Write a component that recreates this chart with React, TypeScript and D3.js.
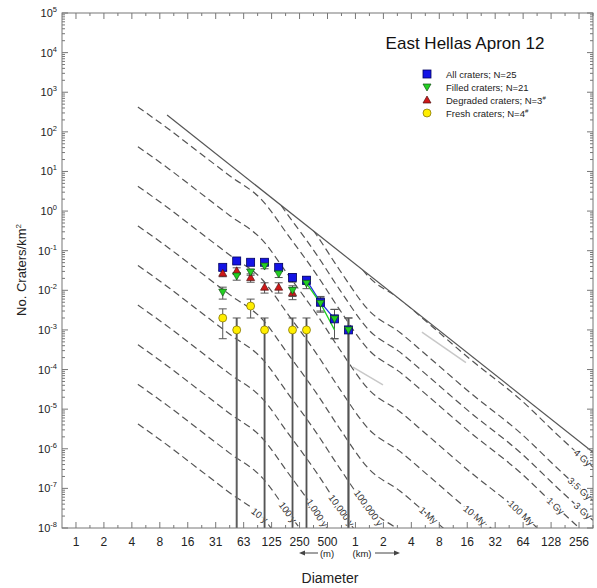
import React, { useEffect, useRef } from "react";
import * as d3 from "d3";

// crater diameter bins (km), sqrt(2) bins, plotted at bin centre
const binD = [0.0372, 0.0526, 0.0743, 0.105, 0.149, 0.21, 0.297, 0.42, 0.595, 0.841];

// All craters (blue squares)
const allN = [0.038, 0.055, 0.051, 0.051, 0.038, 0.021, 0.018, 0.005, 0.0019, 0.001];
const allLo = [0.032, 0.048, 0.044, 0.044, 0.032, 0.016, 0.014, 0.003, 0.0006, 0];
const allHi = [0.044, 0.062, 0.058, 0.058, 0.044, 0.026, 0.022, 0.007, 0.0033, 0.002];

// Filled craters (green down triangles)
const filledN = [0.009, 0.023, 0.029, 0.041, 0.026, 0.01, 0.015, 0.0047, 0.0019, 0.001];
const filledLo = [0.006, 0.018, 0.024, 0.035, 0.021, 0.007, 0.011, 0.0028, 0.0006, 0];
const filledHi = [0.012, 0.028, 0.034, 0.047, 0.031, 0.013, 0.019, 0.0067, 0.0033, 0.002];

// Degraded craters (red up triangles), first six bins
const degradedN = [0.027, 0.031, 0.021, 0.012, 0.012, 0.0087];
const degradedLo = [0.022, 0.025, 0.016, 0.0085, 0.0085, 0.0058];
const degradedHi = [0.032, 0.037, 0.026, 0.0155, 0.0155, 0.0116];

// Fresh craters (yellow circles)
const freshBin = [0, 1, 2, 3, 5, 6];
const freshN = [0.002, 0.001, 0.004, 0.001, 0.001, 0.001];
const freshLo = [0.0006, 0, 0.002, 0, 0, 0];
const freshHi = [0.0034, 0.002, 0.006, 0.002, 0.002, 0.002];

// connecting lines
const blueLineD = [0.297, 0.42, 0.595];
const blueLineN = [0.018, 0.005, 0.0019];
const greenLineD = [0.297, 0.42, 0.595];
const greenLineN = [0.015, 0.0047, 0.001];

// isochron shape (1 Gy)
const isoD = [0.00454, 0.01004, 0.0211, 0.0445, 0.0984, 0.1877, 0.3849, 0.6808, 1.398, 3.015, 5.89, 17.1, 59.1, 159.5, 361.3];
const isoN = [423, 111, 29.2, 7.66, 1.9, 0.248, 0.0242, 0.00316, 3.09e-4, 8.59e-5, 2.26e-5, 2.63e-6, 2.56e-7, 2.81e-8, 4.92e-9];
const isoNames = ["10 y", "100 y", "1,000 y", "10,000 y", "100,000 y", "1 My", "10 My", "100 My", "1 Gy", "3 Gy", "3.5 Gy", "4 Gy"];
const isoFactor = [1e-8, 1e-7, 1e-6, 1e-5, 1e-4, 1e-3, 1e-2, 1e-1, 1, 3.2, 10, 70];
// label height on the curve; 0 = at the right edge
const isoLabelN = [2.1e-8, 2.5e-8, 2.4e-8, 2.8e-8, 3.2e-8, 2.1e-8, 2.1e-8, 2.4e-8, 3.6e-8, 0, 0, 0];

// saturation equilibrium
const satD = [0.00935, 362];
const satN = [265, 8.2e-7];

// light grey reference segments
const greySegs = [
  [[5.2, 8.8e-4], [15.5, 1.5e-4]],
  [[0.94, 1.15e-4], [1.98, 4.1e-5]],
];

const xTickLabels = ["1", "2", "4", "8", "16", "31", "63", "125", "250", "500", "1", "2", "4", "8", "16", "32", "64", "128", "256"];

const legendItems = [
  { label: "All craters; N=25", sup: "", kind: "all" },
  { label: "Filled craters; N=21", sup: "", kind: "filled" },
  { label: "Degraded craters; N=3", sup: "#", kind: "degraded" },
  { label: "Fresh craters; N=4", sup: "#", kind: "fresh" },
];

const FONT = "'Liberation Sans', Arial, sans-serif";

export default function App() {
  const ref = useRef<SVGSVGElement>(null);

  useEffect(() => {
    document.body.style.margin = "0";
    const svg = d3.select(ref.current);
    svg.selectAll("*").remove();

    const left = 62, right = 593, top = 13, bottom = 528;
    const x = d3.scaleLog().base(2).domain([Math.pow(2, -10.5), Math.pow(2, 8.5)]).range([left, right]);
    const y = d3.scaleLog().domain([1e-8, 1e5]).range([bottom, top]);

    svg.append("rect").attr("width", 597).attr("height", 588).attr("fill", "white");

    const defs = svg.append("defs");
    defs.append("clipPath").attr("id", "plotClip")
      .append("rect").attr("x", left).attr("y", top).attr("width", right - left).attr("height", bottom - top);

    // region below the saturation line
    const p1 = [x(satD[0]), y(satN[0])];
    const p2 = [x(satD[1]), y(satN[1])];
    const s = (p2[1] - p1[1]) / (p2[0] - p1[0]);
    defs.append("clipPath").attr("id", "satClip")
      .append("polygon")
      .attr("points", [[0, p1[1] - s * p1[0]], [620, p1[1] + s * (620 - p1[0])], [620, 620], [0, 620]].map(p => p.join(",")).join(" "));

    const plot = svg.append("g").attr("clip-path", "url(#plotClip)");

    // isochrons
    const isoG = plot.append("g").attr("clip-path", "url(#satClip)");
    const line = d3.line<[number, number]>().x(d => x(d[0])).y(d => y(d[1])).curve(d3.curveMonotoneX);
    isoFactor.forEach((f) => {
      const pts: [number, number][] = isoD.map((d, i) => [d, isoN[i] * f]);
      isoG.append("path").datum(pts)
        .attr("d", line)
        .attr("fill", "none")
        .attr("stroke", "#555")
        .attr("stroke-width", 1.2)
        .attr("stroke-dasharray", "7,4");
    });

    // saturation line
    plot.append("line")
      .attr("x1", p1[0]).attr("y1", p1[1]).attr("x2", p2[0]).attr("y2", p2[1])
      .attr("stroke", "#555").attr("stroke-width", 1.2);

    // grey segments
    greySegs.forEach(seg => {
      plot.append("line")
        .attr("x1", x(seg[0][0])).attr("y1", y(seg[0][1]))
        .attr("x2", x(seg[1][0])).attr("y2", y(seg[1][1]))
        .attr("stroke", "#c8c8c8").attr("stroke-width", 1.5);
    });

    // isochron labels
    isoFactor.forEach((f, k) => {
      const px = isoD.map((d, i) => [x(d), y(isoN[i] * f)]);
      const atEdge = isoLabelN[k] === 0;
      const lyWanted = atEdge ? 0 : y(isoLabelN[k]);
      for (let i = 0; i < px.length - 1; i++) {
        const a = px[i], b = px[i + 1];
        const hit = atEdge
          ? (a[0] <= right - 3 && b[0] >= right - 3)
          : ((a[1] - lyWanted) * (b[1] - lyWanted) <= 0 && a[1] !== b[1]);
        if (hit) {
          const t = atEdge ? (right - 3 - a[0]) / (b[0] - a[0]) : (lyWanted - a[1]) / (b[1] - a[1]);
          const lx = a[0] + t * (b[0] - a[0]);
          const ly = a[1] + t * (b[1] - a[1]);
          const ang = Math.atan2(b[1] - a[1], b[0] - a[0]) * 180 / Math.PI;
          plot.append("text")
            .attr("transform", `translate(${lx},${ly}) rotate(${ang})`)
            .attr("text-anchor", atEdge ? "end" : "middle")
            .attr("dy", "0.35em")
            .attr("font-family", FONT)
            .attr("font-size", 9.5)
            .attr("fill", "#333")
            .attr("stroke", "white").attr("stroke-width", 3).attr("paint-order", "stroke")
            .text(isoNames[k]);
          break;
        }
      }
    });

    // error bars
    const errG = plot.append("g").attr("stroke", "#555").attr("stroke-width", 1);
    const drawErr = (D: number, lo: number, hi: number) => {
      const cx = x(D);
      const yTop = y(hi);
      const yBot = lo > 0 ? y(lo) : bottom;
      if (lo > 0) {
        errG.append("line").attr("x1", cx).attr("x2", cx).attr("y1", yTop).attr("y2", yBot);
        errG.append("line").attr("x1", cx - 4).attr("x2", cx + 4).attr("y1", yBot).attr("y2", yBot);
      } else {
        // lower bound at zero: bar runs down to the axis
        errG.append("line").attr("x1", cx).attr("x2", cx).attr("y1", yTop).attr("y2", yBot)
          .attr("stroke", "#888").attr("stroke-width", 2.2);
        errG.append("line").attr("x1", cx).attr("x2", cx).attr("y1", yTop).attr("y2", yBot)
          .attr("stroke", "#444").attr("stroke-width", 0.8);
      }
      errG.append("line").attr("x1", cx - 4).attr("x2", cx + 4).attr("y1", yTop).attr("y2", yTop);
    };
    binD.forEach((D, i) => drawErr(D, allLo[i], allHi[i]));
    binD.forEach((D, i) => drawErr(D, filledLo[i], filledHi[i]));
    degradedN.forEach((_, i) => drawErr(binD[i], degradedLo[i], degradedHi[i]));
    freshBin.forEach((b, i) => drawErr(binD[b], freshLo[i], freshHi[i]));

    // connecting lines
    plot.append("path")
      .attr("d", d3.line<number>().x((d, i) => x(blueLineD[i])).y(d => y(d))(blueLineN))
      .attr("fill", "none").attr("stroke", "#2030e0").attr("stroke-width", 1.3);
    plot.append("path")
      .attr("d", d3.line<number>().x((d, i) => x(greenLineD[i])).y(d => y(d))(greenLineN))
      .attr("fill", "none").attr("stroke", "#20d020").attr("stroke-width", 1.3);

    // markers
    const marker = (g: any, kind: string, cx: number, cy: number) => {
      if (kind === "all") {
        g.append("rect").attr("x", cx - 4).attr("y", cy - 4).attr("width", 8).attr("height", 8)
          .attr("fill", "#1414e6").attr("stroke", "#000060").attr("stroke-width", 0.8);
      } else if (kind === "filled") {
        g.append("path").attr("d", `M${cx - 4},${cy - 3}L${cx + 4},${cy - 3}L${cx},${cy + 4}Z`)
          .attr("fill", "#22d022").attr("stroke", "#145014").attr("stroke-width", 0.7);
      } else if (kind === "degraded") {
        g.append("path").attr("d", `M${cx - 4},${cy + 3}L${cx + 4},${cy + 3}L${cx},${cy - 4}Z`)
          .attr("fill", "#d01818").attr("stroke", "#501010").attr("stroke-width", 0.7);
      } else {
        g.append("circle").attr("cx", cx).attr("cy", cy).attr("r", 4)
          .attr("fill", "#ffee00").attr("stroke", "#7a6a00").attr("stroke-width", 0.7);
      }
    };
    const mk = plot.append("g");
    binD.forEach((D, i) => marker(mk, "all", x(D), y(allN[i])));
    degradedN.forEach((n, i) => marker(mk, "degraded", x(binD[i]), y(n)));
    binD.forEach((D, i) => marker(mk, "filled", x(D), y(filledN[i])));
    freshBin.forEach((b, i) => marker(mk, "fresh", x(binD[b]), y(freshN[i])));

    // frame and ticks
    const axisG = svg.append("g").attr("stroke", "#777").attr("stroke-width", 1);
    axisG.append("rect").attr("x", left).attr("y", top).attr("width", right - left).attr("height", bottom - top).attr("fill", "none");
    for (let k = -8; k <= 5; k++) {
      const yy = y(Math.pow(10, k));
      axisG.append("line").attr("x1", left).attr("x2", left + 6).attr("y1", yy).attr("y2", yy);
      axisG.append("line").attr("x1", right).attr("x2", right - 6).attr("y1", yy).attr("y2", yy);
      svg.append("text")
        .attr("x", left - 5).attr("y", yy + 4)
        .attr("text-anchor", "end")
        .attr("font-family", FONT).attr("font-size", 11).attr("fill", "#222")
        .call((t: any) => {
          t.append("tspan").text("10");
          t.append("tspan").attr("dy", -5).attr("font-size", 7.5).text(String(k));
        });
      if (k < 5) {
        for (let m = 2; m <= 9; m++) {
          const ym = y(m * Math.pow(10, k));
          axisG.append("line").attr("x1", left).attr("x2", left + 3).attr("y1", ym).attr("y2", ym);
          axisG.append("line").attr("x1", right).attr("x2", right - 3).attr("y1", ym).attr("y2", ym);
        }
      }
    }
    for (let k = -10; k <= 8; k++) {
      const xx = x(Math.pow(2, k));
      axisG.append("line").attr("x1", xx).attr("x2", xx).attr("y1", bottom).attr("y2", bottom - 6);
      axisG.append("line").attr("x1", xx).attr("x2", xx).attr("y1", top).attr("y2", top + 6);
      const xm = x(Math.pow(2, k + 0.5));
      axisG.append("line").attr("x1", xm).attr("x2", xm).attr("y1", bottom).attr("y2", bottom - 3);
      axisG.append("line").attr("x1", xm).attr("x2", xm).attr("y1", top).attr("y2", top + 3);
      svg.append("text")
        .attr("x", xx).attr("y", bottom + 18)
        .attr("text-anchor", "middle")
        .attr("font-family", FONT).attr("font-size", 12).attr("fill", "#222")
        .text(xTickLabels[k + 10]);
    }

    // units row
    const unitY = 553;
    svg.append("text").attr("x", 327).attr("y", unitY + 3.5).attr("text-anchor", "middle")
      .attr("font-family", FONT).attr("font-size", 9.5).attr("fill", "#222").text("(m)");
    svg.append("text").attr("x", 362).attr("y", unitY + 3.5).attr("text-anchor", "middle")
      .attr("font-family", FONT).attr("font-size", 9.5).attr("fill", "#222").text("(km)");
    svg.append("line").attr("x1", 302).attr("x2", 318).attr("y1", unitY).attr("y2", unitY).attr("stroke", "#444");
    svg.append("path").attr("d", `M299,${unitY}L305,${unitY - 2.5}L305,${unitY + 2.5}Z`).attr("fill", "#444");
    svg.append("line").attr("x1", 375).attr("x2", 396).attr("y1", unitY).attr("y2", unitY).attr("stroke", "#444");
    svg.append("path").attr("d", `M400,${unitY}L394,${unitY - 2.5}L394,${unitY + 2.5}Z`).attr("fill", "#444");

    // axis titles
    svg.append("text").attr("x", 330).attr("y", 583).attr("text-anchor", "middle")
      .attr("font-family", FONT).attr("font-size", 14).attr("fill", "#222").text("Diameter");
    svg.append("text")
      .attr("transform", "translate(26,270) rotate(-90)")
      .attr("text-anchor", "middle")
      .attr("font-family", FONT).attr("font-size", 13).attr("fill", "#222")
      .call((t: any) => {
        t.append("tspan").text("No. Craters/km");
        t.append("tspan").attr("dy", -5).attr("font-size", 8).text("2");
      });

    // title
    svg.append("text").attr("x", 465).attr("y", 49).attr("text-anchor", "middle")
      .attr("font-family", FONT).attr("font-size", 17).attr("fill", "#111").text("East Hellas Apron 12");

    // legend
    const lg = svg.append("g");
    legendItems.forEach((it, i) => {
      const ly = 74 + i * 13;
      marker(lg, it.kind, 427, ly);
      const t = lg.append("text").attr("x", 446).attr("y", ly + 3.5)
        .attr("font-family", FONT).attr("font-size", 9.5).attr("fill", "#222");
      t.append("tspan").text(it.label);
      if (it.sup) t.append("tspan").attr("dy", -4).attr("font-size", 6).text(it.sup);
    });
  }, []);

  return <svg ref={ref} width={597} height={588} style={{ display: "block" }} />;
}
